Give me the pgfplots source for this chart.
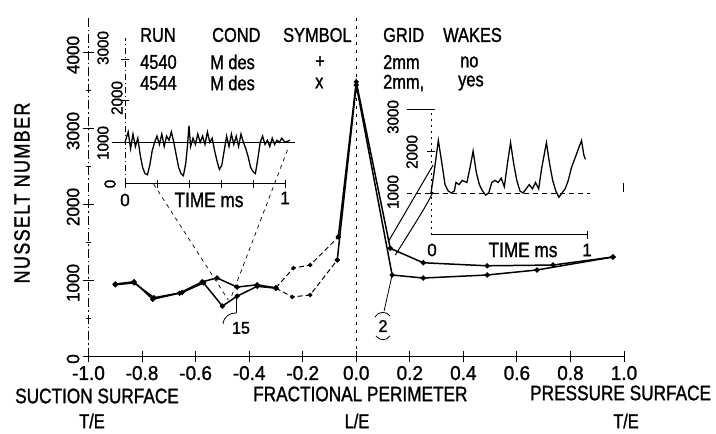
\documentclass[border=0pt]{standalone}
\usepackage{pgfplots}
\pgfplotsset{compat=1.18}
\usepackage{fontspec}
\setmainfont{Liberation Sans}[FakeStretch=0.82, FakeBold=1.2]
\newfontfamily\numfont{Liberation Sans}[FakeStretch=0.95, FakeBold=1.2]
\newcommand\fs[1]{\fontsize{#1}{#1}\selectfont}

\begin{document}
\begin{tikzpicture}
\useasboundingbox (0,0) rectangle (716pt,434pt);
\fill[white] (0,0) rectangle (716pt,434pt);

% ---------------- main axis ----------------
\begin{axis}[
  at={(88.5pt,77pt)}, anchor=south west,
  scale only axis, width=535.5pt, height=342pt,
  xmin=-1, xmax=1, ymin=0, ymax=4500,
  axis lines=left, clip=false,
  axis line style={-},
  x axis line style={-, line width=1pt},
  y axis line style={-, line width=0.9pt, dash pattern=on 9pt off 3pt on 1.5pt off 3pt},
  tick align=center,
  major tick length=11pt, minor tick length=5pt,
  tick style={black, line width=1pt, solid},
  xtick={-1,-0.8,-0.6,-0.4,-0.2,0,0.2,0.4,0.6,0.8,1},
  xticklabels={-1.0,-0.8,-0.6,-0.4,-0.2,0.0,0.2,0.4,0.6,0.8,1.0},
  ytick={0,1000,2000,3000,4000},
  yticklabels={0,1000,2000,3000,4000},
  minor ytick={500,1500,2500,3500},
  xticklabel style={font=\numfont\fs{20}, yshift=0pt},
  yticklabel style={font=\numfont\fs{18}, rotate=90, anchor=south, xshift=-2pt},
]
% L/E line
\addplot[black, line width=0.8pt, dash pattern=on 3pt off 5pt] coordinates {(0,0) (0,4500)};

% run 4540
\addplot[black, line width=1.5pt, mark=*, mark size=1.8pt] coordinates {
(-0.90,960) (-0.83,990) (-0.76,760) (-0.66,840) (-0.575,990) (-0.52,1040) (-0.445,920) (-0.37,950) (-0.30,910)};
\addplot[black, line width=1pt, dash pattern=on 5pt off 3pt, mark=*, mark size=1.7pt, mark options={solid}] coordinates {
(-0.30,910) (-0.235,1170) (-0.172,1210) (-0.067,1580)};
\addplot[black, line width=1.5pt, mark=*, mark size=1.8pt] coordinates {
(-0.067,1580) (0,3620) (0.127,1430) (0.25,1240) (0.489,1200) (0.735,1210) (0.959,1316)};

% run 4544
\addplot[black, line width=1.5pt, mark=*, mark size=1.8pt] coordinates {
(-0.90,950) (-0.83,975) (-0.755,780) (-0.65,850) (-0.57,975) (-0.50,670) (-0.445,800) (-0.37,930) (-0.30,905)};
\addplot[black, line width=1pt, dash pattern=on 5pt off 3pt, mark=*, mark size=1.7pt, mark options={solid}] coordinates {
(-0.30,905) (-0.239,790) (-0.172,816) (-0.071,1276)};
\addplot[black, line width=1.5pt, mark=*, mark size=1.8pt] coordinates {
(-0.071,1276) (0,3580) (0.134,1079) (0.25,1039) (0.489,1079) (0.675,1145) (0.959,1316)};

% leader lines
\addplot[black, line width=0.7pt, dash pattern=on 4pt off 4pt] coordinates {(-0.757,2276) (-0.478,750)};
\addplot[black, line width=0.7pt, dash pattern=on 4pt off 4pt] coordinates {(-0.257,2724) (-0.47,760)};
\addplot[black, line width=0.8pt] coordinates {(-0.448,790) (-0.448,580)};
\addplot[black, line width=1pt] coordinates {(0.119,1513) (0.287,2526)};
\addplot[black, line width=1pt, smooth] coordinates {(0.146,1342) (0.209,1697) (0.257,1974) (0.287,2171)};
\addplot[black, line width=0.8pt] coordinates {(0.134,1079) (0.104,605)};
\addplot[black, line width=0.8pt] coordinates {(0.996,2289) (0.996,2170)};
\end{axis}

% ---------------- inset 1 ----------------
\begin{axis}[
  at={(125pt,250pt)}, anchor=south west,
  scale only axis, width=160pt, height=145.8pt,
  xmin=0, xmax=1, ymin=0, ymax=3500,
  axis lines=left, clip=false,
  axis line style={-},
  x axis line style={-, line width=1pt},
  y axis line style={-, line width=0.8pt, dash pattern=on 6pt off 3pt on 1pt off 3pt},
  tick align=center, major tick length=8pt,
  tick style={black, line width=0.9pt, solid},
  xtick={0,0.2,0.4,0.6,0.8,1}, ytick={1000,2000,3000},
  xticklabels={}, yticklabels={},
]
\addplot[black, line width=0.9pt] coordinates {(-0.08,1000) (1.06,1000)};
\addplot[black, line width=1.3pt] coordinates {
(0.00,1000) (0.02,1250) (0.035,850) (0.05,1200) (0.065,900) (0.08,1100) (0.095,700)
(0.11,400) (0.125,250) (0.14,220) (0.155,450) (0.17,800) (0.185,1000) (0.20,1150)
(0.215,950) (0.23,1200) (0.245,900) (0.26,1150) (0.275,1050) (0.29,1250) (0.305,1000)
(0.32,700) (0.335,400) (0.35,250) (0.365,200) (0.38,500) (0.39,900) (0.40,1400)
(0.41,900) (0.425,1100) (0.44,950) (0.455,1200) (0.47,1000) (0.485,1150) (0.50,950)
(0.515,1250) (0.53,1000) (0.545,1100) (0.56,800) (0.575,550) (0.59,350) (0.605,450)
(0.62,800) (0.635,1150) (0.65,900) (0.665,1200) (0.68,950) (0.695,1150) (0.71,900)
(0.725,1200) (0.74,1000) (0.755,850) (0.77,650) (0.785,400) (0.80,300) (0.815,250)
(0.83,600) (0.845,1000) (0.86,1150) (0.875,950) (0.89,1050) (0.905,900) (0.92,1100)
(0.935,950) (0.95,1050) (0.965,1000) (0.98,1100) (1.00,1000) (1.03,1050)};
\end{axis}

% ---------------- inset 2 ----------------
\begin{axis}[
  at={(431pt,199pt)}, anchor=south west,
  scale only axis, width=156pt, height=126pt,
  xmin=0, xmax=1, ymin=0, ymax=3000,
  axis lines=left, clip=false,
  axis line style={-},
  x axis line style={-, line width=1pt},
  y axis line style={-, line width=0.8pt, dash pattern=on 2pt off 4pt},
  tick align=center, major tick length=8pt,
  tick style={black, line width=0.9pt, solid},
  xtick={1}, ytick={1000,2000,3000},
  xticklabels={}, yticklabels={},
]
\addplot[black, line width=0.9pt, dash pattern=on 5pt off 4pt] coordinates {(-0.155,1000) (1.02,1000)};
\addplot[black, line width=0.9pt] coordinates {(-0.155,3000) (0,3000)};
\addplot[black, line width=1.3pt] coordinates {
(0.00,1000) (0.02,1500) (0.047,2250) (0.07,1700) (0.09,1200) (0.11,1050) (0.13,1000)
(0.15,1050) (0.16,1250) (0.18,1200) (0.20,1300) (0.23,1250) (0.25,1600) (0.27,2000)
(0.29,1500) (0.31,1200) (0.33,1050) (0.35,950) (0.37,1000) (0.39,1250) (0.41,1300)
(0.43,1250) (0.45,1350) (0.47,1150) (0.49,1700) (0.51,2200) (0.53,1700) (0.55,1300)
(0.57,1050) (0.59,1000) (0.61,1100) (0.63,1200) (0.65,1100) (0.67,1250) (0.69,1100)
(0.71,1600) (0.74,2200) (0.76,1700) (0.78,1300) (0.80,1050) (0.82,900) (0.84,1000)
(0.86,1100) (0.88,1300) (0.90,1600) (0.93,1900) (0.965,2250) (0.98,1900) (0.99,1800)};
\end{axis}

% ---------------- text (pixel coordinates from top-left) ----------------
\begin{scope}[x=1pt, y=-1pt, shift={(0pt,434pt)}]
\node[rotate=90, font=\fs{22}\addfontfeatures{LetterSpace=6}] at (22,193) {NUSSELT NUMBER};

\begin{scope}[every node/.style={anchor=west, inner sep=0pt, font=\fs{20}}]
\node at (140,35) {RUN};
\node at (212,35) {COND};
\node at (283,35) {SYMBOL};
\node at (383,35) {GRID};
\node at (443,35) {WAKES};
\node at (140,62) {4540};
\node at (210,62) {M des};
\node at (315,62) {+};
\node at (383,62) {2mm};
\node at (460,62) {no};
\node at (140,83) {4544};
\node at (210,83) {M des};
\node at (315,83) {x};
\node at (383,83) {2mm,};
\node at (458,83) {yes};
\end{scope}

\begin{scope}[every node/.style={anchor=west, inner sep=0pt, font=\fs{21}}]
\node at (15,396) {SUCTION SURFACE};
\node at (253,394) {FRACTIONAL PERIMETER};
\node at (530,393) {PRESSURE SURFACE};
\end{scope}
\node[inner sep=0pt, font=\fs{20}] at (92,421) {T/E};
\node[inner sep=0pt, font=\fs{20}] at (357,421) {L/E};
\node[inner sep=0pt, font=\fs{20}] at (626,421) {T/E};

% inset 1 labels
\node[inner sep=0pt, font=\numfont\fs{18}] at (125,200) {0};
\node[inner sep=0pt, font=\fs{21}] at (209,200) {TIME ms};
\node[inner sep=0pt, font=\numfont\fs{18}] at (285,198) {1};
\node[inner sep=0pt, rotate=90, font=\numfont\fs{16}] at (103,48) {3000};
\node[inner sep=0pt, rotate=90, font=\numfont\fs{16}] at (117,98) {2000};
\node[inner sep=0pt, rotate=90, font=\numfont\fs{16}] at (103,143) {1000};
\node[inner sep=0pt, rotate=90, font=\numfont\fs{16}] at (110,184) {0};

% inset 2 labels
\node[inner sep=0pt, font=\numfont\fs{18}] at (432,250) {0};
\node[inner sep=0pt, font=\fs{21}] at (523,250) {TIME ms};
\node[inner sep=0pt, font=\numfont\fs{18}] at (587,250) {1};
\node[inner sep=0pt, rotate=90, font=\numfont\fs{16}] at (393,117) {3000};
\node[inner sep=0pt, rotate=90, font=\numfont\fs{16}] at (412,152) {2000};
\node[inner sep=0pt, rotate=90, font=\numfont\fs{16}] at (393,192) {1000};

% circled station labels
\node[inner sep=0pt, font=\numfont\fs{17}] at (241,328) {15};
\draw[line width=0.8pt] (223,324) .. controls (224,316) and (230,313) .. (236,313);
\node[inner sep=0pt, font=\numfont\fs{17}] at (383,326) {2};
\draw[line width=0.8pt] (375,317) .. controls (378,311) and (387,311) .. (390,316);
\draw[line width=0.8pt] (376,336) .. controls (380,341) and (386,341) .. (390,336);
\end{scope}
\end{tikzpicture}
\end{document}
